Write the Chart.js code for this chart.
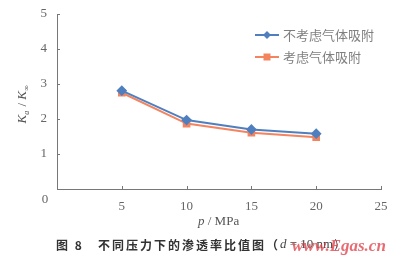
<!DOCTYPE html>
<html>
<head>
<meta charset="utf-8">
<script src="https://cdn.jsdelivr.net/npm/chart.js@4.4.0/dist/chart.umd.min.js"></script>
<style>
  html,body{margin:0;padding:0;background:#fff;}
  #wrap{width:400px;height:265px;}
</style>
</head>
<body>
<div id="wrap"><canvas id="ratio"></canvas></div>
<script>
// pressure (MPa) and permeability ratio Ka/Kinf
var pressure=[5,10,15,20];
var noAdsorb=[2.81,1.97,1.70,1.58];
var withAdsorb=[2.75,1.87,1.61,1.48];
var legendNames=['不考虑气体吸附','考虑气体吸附'];
var xTicks=[5,10,15,20,25];
var yTicks=[1,2,3,4,5];

var serif='"Liberation Serif","DejaVu Serif",serif';
var cjk='"Noto Sans CJK SC","Noto Sans",sans-serif';

function pts(vals){
  return pressure.map(function(p,i){return {x:p,y:vals[i]};});
}

// extra drawing: inward ticks, axis titles, legend box, caption
var extras={
  id:'extras',
  afterDraw:function(chart){
    var c=chart.ctx, xs=chart.scales.x, ys=chart.scales.y, a=chart.chartArea;
    c.save();
    c.strokeStyle='#777';c.lineWidth=1;
    c.beginPath();
    xTicks.forEach(function(v){var px=Math.round(xs.getPixelForValue(v))+0.5;c.moveTo(px,a.bottom);c.lineTo(px,a.bottom-3);});
    yTicks.forEach(function(v){var py=Math.round(ys.getPixelForValue(v))+0.5;c.moveTo(a.left,py);c.lineTo(a.left+3,py);});
    c.stroke();

    // "0" at origin
    c.fillStyle='#666';c.font='13px '+serif;c.textAlign='center';c.textBaseline='middle';
    c.fillText('0',a.left-12,a.bottom+11);

    // x title
    c.textAlign='left';c.fillStyle='#555';
    var tx=198;
    c.font='italic 13px '+serif;c.fillText('p',tx,222);tx+=c.measureText('p').width;
    c.font='13px '+serif;c.fillText(' / MPa',tx,222);

    // y title
    c.translate(22,(a.top+a.bottom)/2+2);
    c.rotate(-Math.PI/2);
    c.textAlign='left';c.textBaseline='alphabetic';
    var x=-20;
    c.font='italic 13px '+serif;c.fillText('K',x,4);x+=c.measureText('K').width;
    c.font='italic 8px '+serif;c.fillText('a',x,7);x+=c.measureText('a').width+1;
    c.font='13px '+serif;c.fillText(' / ',x,4);x+=c.measureText(' / ').width;
    c.font='italic 13px '+serif;c.fillText('K',x,4);x+=c.measureText('K').width;
    c.font='8px '+serif;c.fillText('∞',x,7);
    c.restore();

    // legend
    c.save();
    chart.data.datasets.forEach(function(ds,i){
      var ly=35+i*22;
      c.strokeStyle=ds.borderColor;c.lineWidth=2;
      c.beginPath();c.moveTo(255,ly);c.lineTo(279,ly);c.stroke();
      c.fillStyle=ds.backgroundColor;
      if(ds.pointStyle==='rectRot'){
        c.beginPath();c.moveTo(267,ly-4);c.lineTo(271,ly);c.lineTo(267,ly+4);c.lineTo(263,ly);c.closePath();c.fill();
      }else{
        c.fillRect(263.5,ly-3.5,7,7);
      }
      c.fillStyle='#808080';c.font='13px '+cjk;c.textAlign='left';c.textBaseline='middle';
      c.fillText(ds.label,283,ly);
    });

    // caption
    c.fillStyle='#333';c.font='bold 12px '+cjk;c.textAlign='left';c.textBaseline='middle';
    if('letterSpacing' in c) c.letterSpacing='2px';
    c.fillText('图 8   不同压力下的渗透率比值图（',56,245);
    var w=c.measureText('图 8   不同压力下的渗透率比值图（').width;
    if('letterSpacing' in c) c.letterSpacing='0px';
    c.font='italic 13px '+serif;c.fillStyle='#444';
    c.fillText('d',56+w,245);
    c.font='13px '+serif;
    c.fillText(' = 10 nm）',56+w+c.measureText('d').width,245);
    // watermark
    c.fillStyle='rgba(225,70,80,0.8)';c.font='italic bold 17px '+serif;
    c.fillText('www.Egas.cn',292,247);
    c.restore();
  }
};

new Chart(document.getElementById('ratio').getContext('2d'),{
  type:'line',
  data:{
    datasets:[{
      label:legendNames[0],
      data:pts(noAdsorb),
      borderColor:'#4f7fbf',
      backgroundColor:'#4f7fbf',
      borderWidth:2,
      pointStyle:'rectRot',
      pointRadius:4,
      tension:0
    },{
      label:legendNames[1],
      data:pts(withAdsorb),
      borderColor:'#f3845f',
      backgroundColor:'#f3845f',
      borderWidth:2,
      pointStyle:'rect',
      pointRadius:4,
      tension:0
    }]
  },
  options:{
    responsive:true,
    maintainAspectRatio:false,
    animation:false,
    layout:{padding:{left:0,right:19,top:14,bottom:36}},
    plugins:{legend:{display:false},tooltip:{enabled:false}},
    scales:{
      x:{
        type:'linear',min:0,max:25,
        afterBuildTicks:function(s){s.ticks=xTicks.map(function(v){return {value:v};});},
        afterFit:function(s){s.height=40;},
        grid:{display:false},
        border:{color:'#777',width:1},
        ticks:{color:'#666',font:{family:serif,size:13},padding:2,maxRotation:0}
      },
      y:{
        min:0,max:5,
        afterBuildTicks:function(s){s.ticks=yTicks.map(function(v){return {value:v};});},
        afterFit:function(s){s.width=57;},
        grid:{display:false},
        border:{color:'#777',width:1},
        ticks:{color:'#666',font:{family:serif,size:13},padding:2}
      }
    }
  },
  plugins:[extras]
});
</script>
</body>
</html>
